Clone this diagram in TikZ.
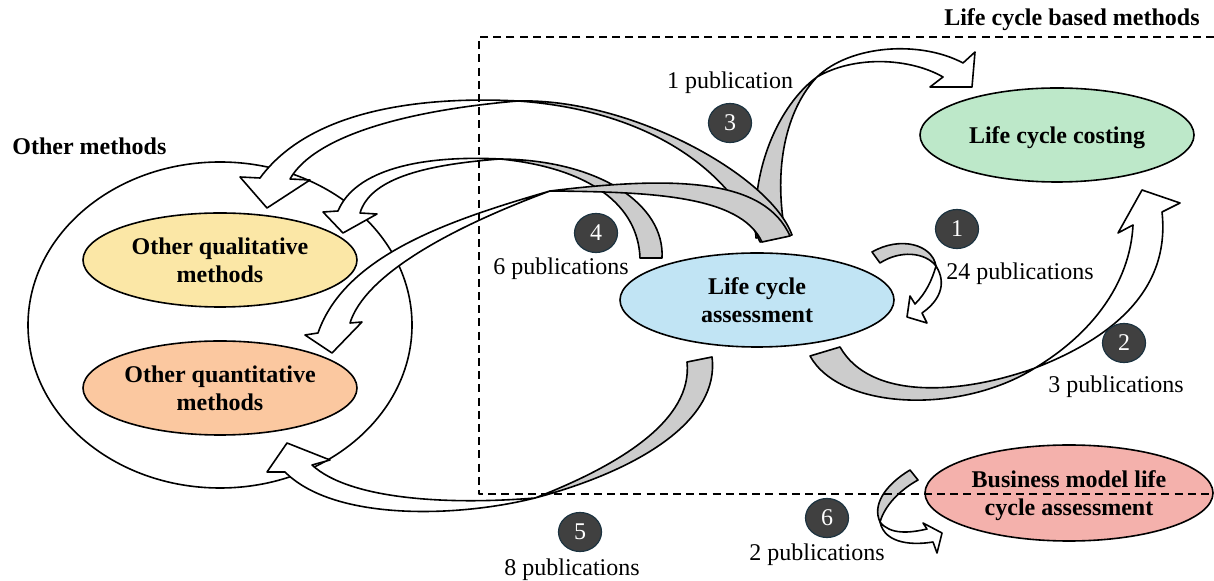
\documentclass[tikz,border=0pt]{standalone}
\usepackage{fontspec}
\setmainfont{Liberation Serif}
\usetikzlibrary{shapes.geometric}

\definecolor{qualfill}{HTML}{FBE7A6}
\definecolor{quantfill}{HTML}{FBC8A0}
\definecolor{lcafill}{HTML}{C1E4F4}
\definecolor{lccfill}{HTML}{BDE8C9}
\definecolor{bmfill}{HTML}{F4B1AC}
\definecolor{bandgray}{HTML}{CCCCCC}
\definecolor{badgefill}{HTML}{404040}
\definecolor{badgeline}{HTML}{1C3340}

\newcommand{\picfont}{\fontsize{12}{14}\selectfont}

\begin{document}
\begin{tikzpicture}[x=0.5pt, y=-0.5pt, line cap=round, line join=round,
    every node/.append style={font=\picfont},
    method/.style={ellipse, draw, line width=0.8pt, inner sep=0pt, align=center, text depth=0pt,
        font=\picfont\bfseries, minimum width=137pt, minimum height=47pt},
    badge/.style={ellipse, fill=badgefill, draw=badgeline, line width=0.6pt,
        text=white, inner sep=0pt, minimum width=21.5pt, minimum height=19.5pt},
    pub/.style={inner sep=0pt, yshift=-1.2pt},
    grayband/.style={draw, fill=bandgray, line width=0.8pt},
    whiteband/.style={draw, fill=white, line width=0.8pt}]

    \useasboundingbox (0,0) rectangle (1214,581);

%%% method groups and ellipses

\node[font=\picfont\bfseries, anchor=west, inner sep=0pt] (othertitle) at (12,146) {Other methods};
\node[font=\picfont\bfseries, anchor=east, inner sep=0pt] (lctitle) at (1200,20) {Life cycle based methods};

\node[ellipse, draw, line width=0.8pt, minimum width=192pt, minimum height=163pt] (others) at (220,325) {};

\node[method, fill=qualfill] (qual) at (220,260) {Other qualitative\\methods};
\node[method, fill=quantfill] (quant) at (220,388) {Other quantitative\\methods};
\node[method, fill=lcafill] (lca) at (757,300) {Life cycle\\assessment};
\node[method, fill=lccfill] (lcc) at (1057,135) {Life cycle costing};
\node[method, fill=bmfill, minimum width=144pt, minimum height=48pt] (bmlca) at (1069,493) {Business model life\\cycle assessment};

%%% curved arrows: gray half from the tail, white half up to the head

% arrow to life cycle costing (tail hidden below the others)
\coordinate (xD) at (817,77);
\filldraw[grayband] (756,238) .. controls (750,160) and (785,100) .. (xD) .. controls (790,105) and (772,160) .. (785,232) -- cycle;
\filldraw[whiteband] (xD) .. controls (850,45) and (920,40) .. (963,63) -- (975,52) -- (972,87) -- (930,87) -- (943,77) .. controls (910,58) and (855,55) .. (xD) -- cycle;

% long arc to other methods
\coordinate (xA) at (518,101);
\filldraw[grayband] (792,235) .. controls (770,175) and (630,98) .. (xA) .. controls (620,108) and (720,150) .. (760,242) -- cycle;
\filldraw[whiteband] (xA) .. controls (420,96) and (310,110) .. (260,178) -- (240,177) -- (267,208) -- (310,180) -- (290,179) .. controls (315,135) and (410,110) .. (xA) -- cycle;

% arc to other qualitative methods
\coordinate (xB) at (500,159);
\filldraw[grayband] (662,258) .. controls (665,205) and (600,160) .. (xB) .. controls (590,168) and (638,205) .. (640,258) -- cycle;
\filldraw[whiteband] (xB) .. controls (420,155) and (355,170) .. (338,211) -- (323,212) -- (343,233) -- (377,214) -- (360,213) .. controls (370,180) and (420,165) .. (xB) -- cycle;

% arc to other quantitative methods
\coordinate (xC) at (550,191);
\filldraw[grayband] (790,236) .. controls (765,180) and (680,175) .. (xC) .. controls (650,192) and (740,195) .. (762,242) -- cycle;
\filldraw[whiteband] (xC) .. controls (450,220) and (345,255) .. (318,333) -- (305,335) -- (332,353) -- (362,322) -- (350,323) .. controls (365,275) and (450,228) .. (xC) -- cycle;

% loop back to life cycle assessment
\coordinate (x1) at (936,266);
\filldraw[grayband] (872,252) .. controls (900,236) and (932,244) .. (x1) .. controls (925,252) and (900,250) .. (880,263) -- cycle;
\filldraw[whiteband] (x1) .. controls (948,285) and (938,302) .. (922,313) -- (927,323) -- (907,317) -- (910,296) -- (915,304) .. controls (926,293) and (932,280) .. (x1) -- cycle;

% lower arc to life cycle costing
\coordinate (x2) at (1035,368);
\filldraw[grayband] (840,347) .. controls (870,400) and (960,395) .. (x2) .. controls (960,415) and (840,410) .. (810,356) -- cycle;
\filldraw[whiteband] (x2) .. controls (1120,335) and (1170,285) .. (1162,212) -- (1180,203) -- (1142,190) -- (1118,233) -- (1133,225) .. controls (1130,285) and (1090,335) .. (x2) -- cycle;

% bottom arc to other methods
\coordinate (x5) at (535,498);
\filldraw[grayband] (712,357) .. controls (720,420) and (640,470) .. (x5) .. controls (620,465) and (693,420) .. (687,362) -- cycle;
\filldraw[whiteband] (x5) .. controls (460,517) and (335,522) .. (285,472) -- (267,472) -- (287,443) -- (330,460) -- (312,465) .. controls (350,500) and (450,505) .. (x5) -- cycle;

% small arrow to business model lca
\coordinate (x6) at (880,522);
\filldraw[grayband] (910,470) .. controls (885,485) and (872,505) .. (x6) .. controls (885,505) and (900,490) .. (918,480) -- cycle;
\filldraw[whiteband] (x6) .. controls (885,545) and (915,545) .. (933,542) -- (937,553) -- (942,533) -- (923,523) -- (927,529) .. controls (910,533) and (890,535) .. (x6) -- cycle;

%%% dashed frame of life cycle based methods (open to the right)

\draw[line width=0.8pt, line cap=butt, dash pattern=on 4pt off 2.6pt] (1214,37) -- (479,37) -- (479,494) -- (1214,494);

%%% numbered badges and publication counts

\foreach \n/\x/\y in {1/957/229, 2/1124/343, 3/730/123, 4/596/233, 5/580/532, 6/827/518} {
    \node[badge] (badge\n) at (\x,\y) {\n};
}

\foreach \n/\x/\y/\t in {1/1020/271/24 publications, 2/1116/384/3 publications,
    3/730/80/1 publication, 4/561/266/6 publications,
    5/572/567/8 publications, 6/817/552/2 publications} {
    \node[pub] (pub\n) at (\x,\y) {\t};
}

\end{tikzpicture}
\end{document}
